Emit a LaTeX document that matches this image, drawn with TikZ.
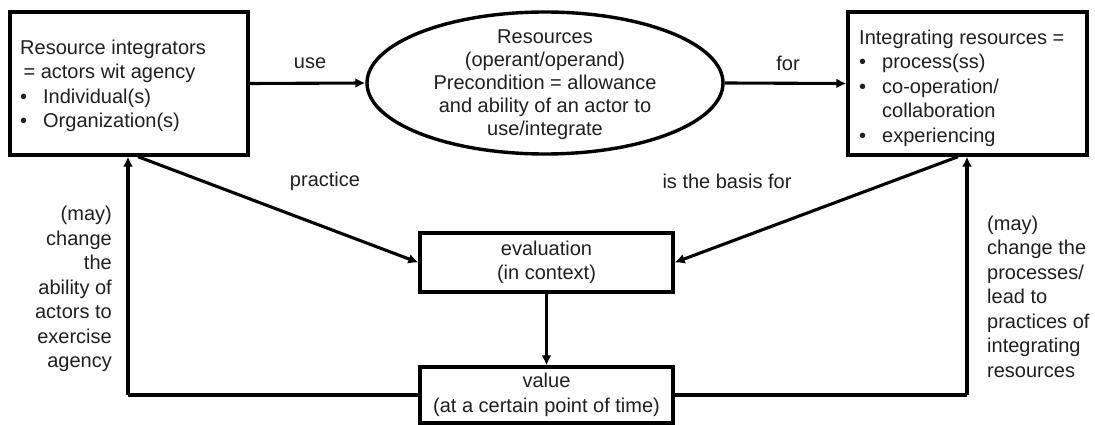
\documentclass[tikz,border=0pt]{standalone}
\usepackage{fontspec}
\setmainfont{Liberation Sans}
\usetikzlibrary{shapes.geometric,arrows.meta}
\begin{document}
\begin{tikzpicture}[x=1pt,y=-1pt,
  every node/.style={font=\fontsize{20}{24.5}\selectfont,text=black!88},
  box/.style={draw,line width=3.4pt,inner sep=0pt},
  conn/.style={line width=3.1pt,-{Latex[length=10pt,width=10pt]}},
  plain/.style={line width=3.1pt},
  lbl/.style={inner sep=0pt}]
\useasboundingbox (0,0) rectangle (1095,425);
\newcommand{\bul}{\makebox[23pt][l]{\textbullet}}
% boxes
\node[box,minimum width=238pt,minimum height=143pt] (ri) at (129,83.5) {};
\node[lbl,align=left,anchor=west] at (20,86)
  {Resource integrators\\
   \,= actors wit agency\\
   \bul Individual(s)\\
   \bul Organization(s)};
\node[box,ellipse,minimum width=356pt,minimum height=142pt] (res) at (545,83) {};
\node[lbl,align=center,font=\fontsize{20}{23}\selectfont] at (545,85)
  {Resources\\(operant/operand)\\Precondition = allowance\\and ability of an actor to\\use/integrate};
\node[box,minimum width=239pt,minimum height=143pt] (ir) at (967.5,83.5) {};
\node[lbl,align=left,anchor=west] at (859,88)
  {Integrating resources =\\
   \bul process(ss)\\
   \bul co-operation/\\
   \hspace*{23pt}collaboration\\
   \bul experiencing};
\node[box,minimum width=253pt,minimum height=59pt,align=center] (ev) at (546.5,262.5) {evaluation\\(in context)};
\node[box,minimum width=253pt,minimum height=56pt,align=center] (val) at (546.5,395) {value\\(at a certain point of time)};
% connector end points on the box borders
\coordinate (riB) at (ri.south west -| 128,0);
\coordinate (riD) at (ri.south west -| 138,0);
\coordinate (irB) at (ir.south west -| 967,0);
\coordinate (irD) at (ir.south west -| 958,0);
\coordinate (cl) at (128,395);
\coordinate (cr) at (967,395);
% connectors
\draw[conn] (ri.east) -- (res.west);
\draw[conn] (res.east) -- (ir.west);
\draw[conn] (riD) -- (ev.west);
\draw[conn] (irD) -- (ev.east);
\draw[conn] (ev.south) -- (val.north);
\draw[plain] (val.west) -- (cl);
\draw[conn] (cl) -- (riB);
\draw[plain] (val.east) -- (cr);
\draw[conn] (cr) -- (irB);
% labels
\node[lbl] (luse) at (310,63) {use};
\node[lbl] (lfor) at (788,63) {for};
\node[lbl] (lpr) at (325,181) {practice};
\node[lbl] (lbasis) at (727,181) {is the basis for};
\node[lbl,align=right,anchor=east] (lleft) at (112,289)
  {(may)\\change\\the\\ability of\\actors to\\exercise\\agency};
\node[lbl,align=left,anchor=west] (lright) at (987,296.5)
  {(may)\\change the\\processes/\\lead to\\practices of\\integrating\\resources};
\end{tikzpicture}
\end{document}
